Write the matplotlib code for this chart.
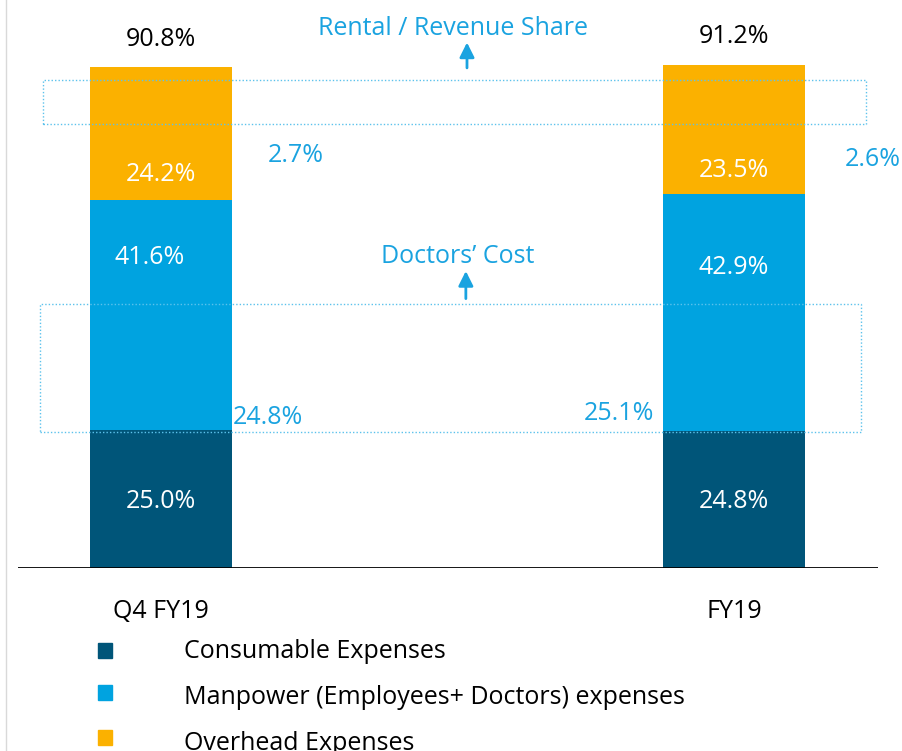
import matplotlib.pyplot as plt
from matplotlib.patches import Rectangle
from matplotlib.lines import Line2D

plt.rcParams['font.family'] = ['Open Sans', 'DejaVu Sans']

categories = ["Q4 FY19", "FY19"]
consumable = [25.0, 24.8]
manpower = [41.6, 42.9]
overhead = [24.2, 23.5]
totals = [90.8, 91.2]
doctors_cost = ["24.8%", "25.1%"]
rental_share = ["2.7%", "2.6%"]
legend_labels = ["Consumable Expenses",
                 "Manpower (Employees+ Doctors) expenses",
                 "Overhead Expenses"]

c_dark = "#005579"
c_blue = "#00A3E0"
c_orange = "#FBB100"
c_note = "#1AA3E0"
c_box = "#5CC2EC"
fs = 18

fig = plt.figure(figsize=(9.03, 7.51), dpi=100)
W, H = 903, 751
# axes: x from 18 to 878 px, baseline at y=568 px, 5.52 px per %
ax = fig.add_axes([18 / W, (H - 568) / H, 860 / W, 552 / H])
ax.set_xlim(-0.2496, 1.2513)
ax.set_ylim(0, 100)
ax.axis("off")

x = [0, 1]
bw = 0.248
ax.bar(x, consumable, bw, color=c_dark)
ax.bar(x, manpower, bw, bottom=consumable, color=c_blue)
bottom2 = [a + b for a, b in zip(consumable, manpower)]
ax.bar(x, overhead, bw, bottom=bottom2, color=c_orange)

ax.axhline(0, xmin=0, xmax=1, color="black", lw=2)

# segment labels (placed as in source, not exactly centred)
ax.text(0, consumable[0] / 2 - 0.4, f"{consumable[0]:.1f}%", color="white", ha="center", va="center", fontsize=fs)
ax.text(1, consumable[1] / 2 - 0.4, f"{consumable[1]:.1f}%", color="white", ha="center", va="center", fontsize=fs)
ax.text(-0.02, consumable[0] + manpower[0] * 0.75, f"{manpower[0]:.1f}%", color="white", ha="center", va="center", fontsize=fs)
ax.text(1.0, consumable[1] + manpower[1] * 0.69, f"{manpower[1]:.1f}%", color="white", ha="center", va="center", fontsize=fs)
ax.text(0, bottom2[0] + overhead[0] * 0.19, f"{overhead[0]:.1f}%", color="white", ha="center", va="center", fontsize=fs)
ax.text(1, bottom2[1] + overhead[1] * 0.18, f"{overhead[1]:.1f}%", color="white", ha="center", va="center", fontsize=fs)

for xi, t in zip(x, totals):
    ax.annotate(f"{t:.1f}%", (xi, t), xytext=(0, 20), textcoords="offset points",
                ha="center", va="center", fontsize=fs, color="black")

# dotted boxes
ax.add_patch(Rectangle((-0.206, 80.4), 1.436, 8.0, fill=False, ls=(0, (1, 1.5)), lw=1, ec=c_box))
ax.add_patch(Rectangle((-0.211, 24.6), 1.433, 23.2, fill=False, ls=(0, (1, 1.5)), lw=1, ec=c_box))

# arrows + notes
ax.annotate("", xy=(0.534, 95.2), xytext=(0.534, 90.6),
            arrowprops=dict(arrowstyle="-|>", color=c_note, lw=2, mutation_scale=22,
                            shrinkA=0, shrinkB=0))
ax.annotate("", xy=(0.532, 53.8), xytext=(0.532, 48.8),
            arrowprops=dict(arrowstyle="-|>", color=c_note, lw=2, mutation_scale=22,
                            shrinkA=0, shrinkB=0))
ax.text(0.51, 97.8, "Rental / Revenue Share", color=c_note, ha="center", va="center", fontsize=fs)
ax.text(0.518, 56.4, "Doctors\u2019 Cost", color=c_note, ha="center", va="center", fontsize=fs)

ax.text(0.236, 74.7, rental_share[0], color=c_note, ha="center", va="center", fontsize=fs)
ax.text(1.243, 74.0, rental_share[1], color=c_note, ha="center", va="center", fontsize=fs)
ax.text(0.187, 27.2, doctors_cost[0], color=c_note, ha="center", va="center", fontsize=fs)
ax.text(0.80, 27.9, doctors_cost[1], color=c_note, ha="center", va="center", fontsize=fs)

# category labels
for xi, c in zip(x, categories):
    ax.text(xi, -7.8, c, ha="center", va="center", fontsize=fs, color="black")

# legend
legend_colors = [c_dark, c_blue, c_orange]
legend_y = [650, 692, 737]
text_y = [651, 698, 743]
for col, ly, ty, lab in zip(legend_colors, legend_y, text_y, legend_labels):
    fig.patches.append(Rectangle((98 / W, (H - ly - 8) / H), 14 / W, 15 / H,
                                 transform=fig.transFigure, color=col))
    fig.text(184 / W, (H - ty) / H, lab, ha="left", va="center", fontsize=fs)

fig.add_artist(Line2D([6 / W, 6 / W], [0, 1], color="#d9d9d9", lw=1))

fig.savefig("out.png", dpi=100)
